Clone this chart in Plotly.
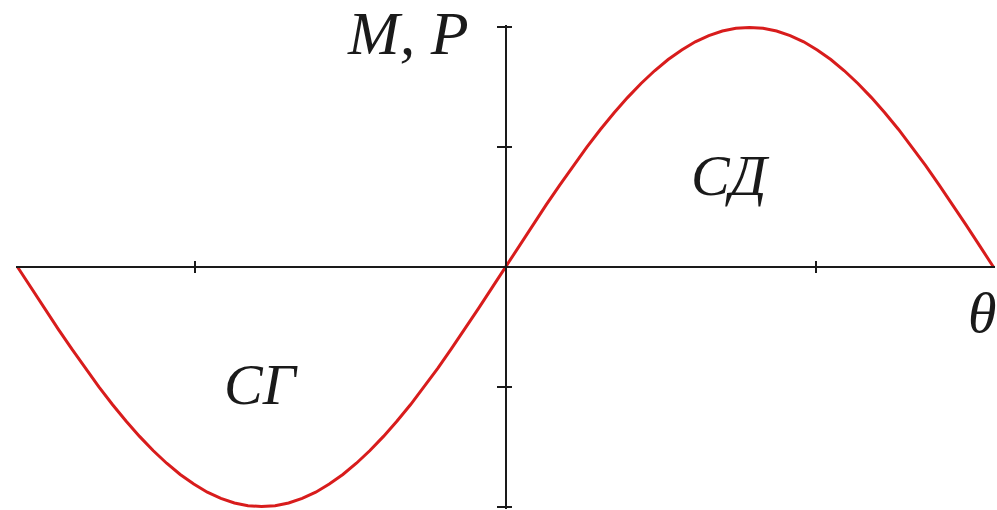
import numpy as np
import plotly.graph_objects as go

# Load angle (degrees) and the normalised torque / power characteristic M,P(θ)
theta_deg = [-180, -175, -170, -165, -160, -155, -150, -145, -140, -135,
             -130, -125, -120, -115, -110, -105, -100, -95, -90,
             -85, -80, -75, -70, -65, -60, -55, -50, -45,
             -40, -35, -30, -25, -20, -15, -10, -5, 0,
             5, 10, 15, 20, 25, 30, 35, 40, 45,
             50, 55, 60, 65, 70, 75, 80, 85, 90,
             95, 100, 105, 110, 115, 120, 125, 130, 135,
             140, 145, 150, 155, 160, 165, 170, 175, 180]
mp_values = [0.0, -0.087, -0.174, -0.259, -0.342, -0.423, -0.5, -0.574, -0.643, -0.707,
             -0.766, -0.819, -0.866, -0.906, -0.94, -0.966, -0.985, -0.996, -1.0,
             -0.996, -0.985, -0.966, -0.94, -0.906, -0.866, -0.819, -0.766, -0.707,
             -0.643, -0.574, -0.5, -0.423, -0.342, -0.259, -0.174, -0.087, 0.0,
             0.087, 0.174, 0.259, 0.342, 0.423, 0.5, 0.574, 0.643, 0.707,
             0.766, 0.819, 0.866, 0.906, 0.94, 0.966, 0.985, 0.996, 1.0,
             0.996, 0.985, 0.966, 0.94, 0.906, 0.866, 0.819, 0.766, 0.707,
             0.643, 0.574, 0.5, 0.423, 0.342, 0.259, 0.174, 0.087, 0.0]

x_ticks = [-2, 2]
y_ticks = [-1, -0.5, 0.5, 1]

theta = np.deg2rad(theta_deg)
x_range = [-np.pi - 0.01, np.pi + 0.01]
y_range = [-1.01, 1.01]

axis_color = "#1a1a1a"
curve_color = "#d81c1c"
serif = "Liberation Serif"

fig = go.Figure()
fig.add_trace(go.Scatter(
    x=theta, y=mp_values, mode="lines",
    line=dict(color=curve_color, width=3),
    hoverinfo="skip", showlegend=False,
))
# invisible copy that carries the second (inside-tick) axis pair
fig.add_trace(go.Scatter(
    x=theta, y=mp_values, mode="lines", xaxis="x2", yaxis="y2",
    line=dict(color="rgba(0,0,0,0)", width=1),
    hoverinfo="skip", showlegend=False,
))

common = dict(showgrid=False, zeroline=False, showticklabels=False,
              tickcolor=axis_color, tickwidth=2)

fig.update_layout(
    width=997, height=510,
    margin=dict(l=16, r=2, t=25, b=1, autoexpand=False),
    paper_bgcolor="white", plot_bgcolor="white",
    xaxis=dict(range=x_range, anchor="free", position=0.5,
               showline=True, linecolor=axis_color, linewidth=2,
               ticks="outside", ticklen=5, tickvals=x_ticks, **common),
    yaxis=dict(range=y_range, anchor="free", position=0.5,
               showline=True, linecolor=axis_color, linewidth=2,
               ticks="outside", ticklen=8, tickvals=y_ticks, **common),
    xaxis2=dict(range=x_range, overlaying="x", anchor="free", position=0.5,
                showline=False, ticks="inside", ticklen=6, tickvals=x_ticks,
                **common),
    yaxis2=dict(range=y_range, overlaying="y", anchor="free", position=0.5,
                showline=False, ticks="inside", ticklen=5, tickvals=y_ticks,
                **common),
)

labels = [
    ("M, P", -0.63, 0.975, 62),
    ("θ", 3.07, -0.19, 58),
    ("СД", 1.447, 0.38, 58),
    ("СГ", -1.576, -0.49, 58),
]
for text, x, y, size in labels:
    fig.add_annotation(
        x=x, y=y, xref="x", yref="y", text=text, showarrow=False,
        xanchor="center", yanchor="middle",
        font=dict(family=serif, size=size, color="#1a1a1a", style="italic"),
    )

fig.write_html("out.html")
